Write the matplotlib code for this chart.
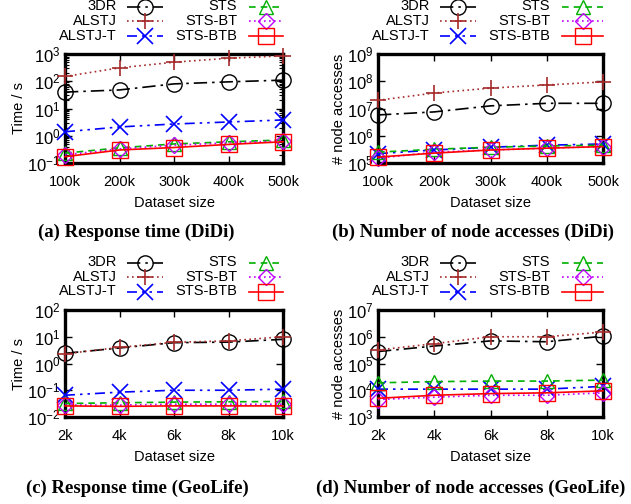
import matplotlib
matplotlib.use("Agg")
import matplotlib.pyplot as plt
import numpy as np

plt.rcParams['font.family'] = ['Liberation Sans', 'DejaVu Sans']
plt.rcParams['mathtext.fontset'] = 'custom'
plt.rcParams['mathtext.rm'] = 'Liberation Sans'

# Data
methods = ['3DR', 'ALSTJ', 'ALSTJ-T', 'STS', 'STS-BT', 'STS-BTB']
didi_sizes = ['100k', '200k', '300k', '400k', '500k']
geo_sizes = ['2k', '4k', '6k', '8k', '10k']

didi_time = {
    '3DR':     [40, 48, 80, 95, 110],
    'ALSTJ':   [150, 310, 500, 700, 850],
    'ALSTJ-T': [1.4, 2.1, 2.7, 3.2, 3.8],
    'STS':     [0.23, 0.36, 0.5, 0.6, 0.7],
    'STS-BT':  [0.2, 0.33, 0.45, 0.55, 0.65],
    'STS-BTB': [0.17, 0.3, 0.37, 0.48, 0.6],
}
didi_nodes = {
    '3DR':     [5.8e6, 7.5e6, 1.25e7, 1.55e7, 1.55e7],
    'ALSTJ':   [2e7, 3.7e7, 5.6e7, 7.3e7, 9.5e7],
    'ALSTJ-T': [2.2e5, 3e5, 3.8e5, 4.5e5, 5e5],
    'STS':     [2.5e5, 3.2e5, 3.8e5, 4.2e5, 4.5e5],
    'STS-BT':  [1.5e5, 2.5e5, 3e5, 3.5e5, 4e5],
    'STS-BTB': [1.65e5, 2.3e5, 3e5, 3.5e5, 4e5],
}
geo_time = {
    '3DR':     [2.4, 3.8, 6.0, 6.3, 8.0],
    'ALSTJ':   [2.3, 4.0, 6.2, 7.0, 10.0],
    'ALSTJ-T': [0.065, 0.085, 0.1, 0.1, 0.11],
    'STS':     [0.032, 0.034, 0.036, 0.037, 0.038],
    'STS-BT':  [0.028, 0.028, 0.03, 0.03, 0.03],
    'STS-BTB': [0.026, 0.025, 0.026, 0.026, 0.026],
}
geo_nodes = {
    '3DR':     [2.8e5, 4.5e5, 7e5, 6.5e5, 1.05e6],
    'ALSTJ':   [3.2e5, 5.5e5, 1e6, 1e6, 1.5e6],
    'ALSTJ-T': [1.1e4, 1.1e4, 1.1e4, 1.1e4, 1.4e4],
    'STS':     [1.9e4, 2.1e4, 2.2e4, 2.2e4, 2.4e4],
    'STS-BT':  [4.5e3, 5.5e3, 6.5e3, 6.5e3, 8e3],
    'STS-BTB': [5e3, 6.5e3, 7.5e3, 8e3, 9.5e3],
}

styles = {
    '3DR':     dict(color='black', ls=(0, (8, 3, 1.5, 3)), marker='o', ms=11, mfc='none'),
    'ALSTJ':   dict(color='#a52a2a', ls=(0, (1, 2)), marker='+', ms=12, mew=1.2),
    'ALSTJ-T': dict(color='#0000ff', ls=(0, (6, 3, 1.5, 3, 1.5, 3)), marker='x', ms=11, mew=1.2),
    'STS':     dict(color='#00b000', ls=(0, (4, 3)), marker='^', ms=10, mfc='none'),
    'STS-BT':  dict(color='#c000ff', ls=(0, (1, 2)), marker='D', ms=8, mfc='none'),
    'STS-BTB': dict(color='#ff0000', ls='-', marker='s', ms=12, mfc='none'),
}

fig = plt.figure(figsize=(6.31, 5.04), dpi=100)

W, H = 631, 504
panels = [
    (65, 54, 218, 109, didi_sizes, didi_time, (1e-1, 1e3), 'Time / s',
     '(a) Response time (DiDi)', 136, 232),
    (378, 54, 225, 109, didi_sizes, didi_nodes, (1e5, 1e9), '# node accesses',
     '(b) Number of node accesses (DiDi)', 473, 232),
    (65, 310, 218, 107, geo_sizes, geo_time, (1e-2, 1e2), 'Time / s',
     '(c) Response time (GeoLife)', 137, 488),
    (378, 310, 225, 107, geo_sizes, geo_nodes, (1e3, 1e7), '# node accesses',
     '(d) Number of node accesses (GeoLife)', 471, 488),
]


def draw_legend(ax, wpx, hpx):
    # gnuplot-style key: text right-aligned, sample to the right
    cols = [(52, 62, 98), (172, 184, wpx)]
    rows = [-47.5, -33, -18.5]
    for i, m in enumerate(methods):
        c = cols[i // 3]
        r = rows[i % 3]
        yf = 1 - r / hpx
        ax.text(c[0] / wpx, yf, m, transform=ax.transAxes, ha='right', va='center',
                fontsize=10.5, clip_on=False)
        st = dict(styles[m])
        ax.plot([c[1] / wpx, c[2] / wpx], [yf, yf], transform=ax.transAxes,
                clip_on=False, lw=1.2, color=st['color'], ls=st['ls'])
        mk = {k: v for k, v in st.items() if k != 'ls'}
        ax.plot([(c[1] + c[2]) / 2 / wpx], [yf], transform=ax.transAxes,
                clip_on=False, ls='none', **mk)


for (x0, y0, w, h, sizes, data, ylim, ylabel, caption, cx, cy) in panels:
    ax = fig.add_axes([x0 / W, 1 - (y0 + h) / H, w / W, h / H])
    xs = np.arange(len(sizes))
    for m in methods:
        ax.plot(xs, data[m], lw=1.2, clip_on=False, zorder=3, **styles[m])
    ax.set_yscale('log')
    ax.set_ylim(*ylim)
    ax.set_xlim(xs[0], xs[-1])
    ax.set_xticks(xs)
    ax.set_xticklabels(sizes)
    ax.set_yticks([10.0 ** k for k in range(int(np.log10(ylim[0])), int(np.log10(ylim[1])) + 1)])
    ax.tick_params(axis='both', which='both', direction='in', top=True, right=True)
    ax.tick_params(axis='x', which='major', labelsize=10.5, pad=9)
    ax.tick_params(axis='y', which='major', labelsize=12, pad=3)
    ax.tick_params(axis='both', which='major', length=5, width=1)
    ax.tick_params(axis='y', which='minor', length=3, width=0.8)
    for s in ax.spines.values():
        s.set_linewidth(2.4)
    ax.set_ylabel(ylabel, fontsize=10.5, labelpad=1)
    ax.set_xlabel('Dataset size', fontsize=10.5, labelpad=5)
    draw_legend(ax, w, h)
    fig.text(cx / W, 1 - cy / H, caption, ha='center', va='center',
             fontsize=13.5, fontweight='bold', family='Liberation Serif')

fig.savefig('out.png', dpi=100)
